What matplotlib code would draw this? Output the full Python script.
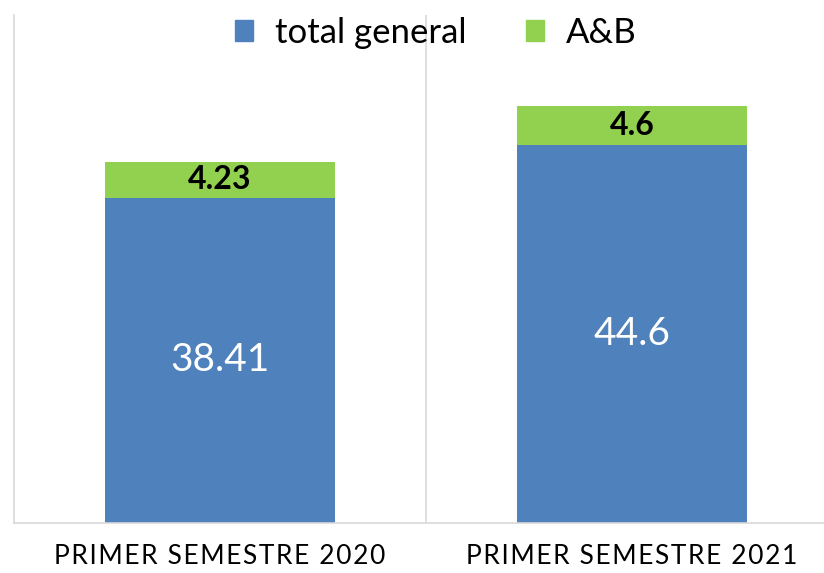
import matplotlib.pyplot as plt
from matplotlib.patches import Patch

# data
categories = ["PRIMER SEMESTRE 2020", "PRIMER SEMESTRE 2021"]
total_general = [38.41, 44.6]
ab = [4.23, 4.6]
series_names = ["total general", "A&B"]

BLUE = "#4F81BD"
GREEN = "#92D050"
GRID = "#D9D9D9"

plt.rcParams["font.family"] = ["Lato", "DejaVu Sans"]

fig = plt.figure(figsize=(8.24, 5.73), dpi=100)
ax = fig.add_axes([14 / 824, 50 / 573, 1.0, 508 / 573])

x = list(range(len(categories)))
width = 0.558
ax.bar(x, total_general, width, color=BLUE, label=series_names[0])
ax.bar(x, ab, width, bottom=total_general, color=GREEN, label=series_names[1])

for i in x:
    ax.text(i, total_general[i] / 2, f"{total_general[i]}", ha="center", va="center",
            color="white", fontsize=28)
    ax.text(i, total_general[i] + ab[i] / 2, f"{ab[i]}", ha="center", va="center",
            color="black", fontsize=23, fontweight="bold")

ax.set_xlim(-0.5, 1.5)
ax.set_ylim(0, 60)
ax.axvline(0.5, color=GRID, lw=1.2)
for side in ["top", "right"]:
    ax.spines[side].set_visible(False)
for side in ["left", "bottom"]:
    ax.spines[side].set_color(GRID)
    ax.spines[side].set_linewidth(1.2)

ax.set_yticks([])
ax.set_xticks(x)
ax.set_xticklabels(["\u200a".join(c) for c in categories], fontsize=19)
ax.tick_params(axis="x", length=0, pad=15)

handles = [Patch(color=BLUE), Patch(color=GREEN)]
fig.legend(handles, series_names, loc="upper center", bbox_to_anchor=(436 / 824, 1.025),
           ncol=2, frameon=False, fontsize=25, handlelength=0.52, handleheight=0.52,
           handletextpad=0.63, columnspacing=1.7)

fig.savefig("out.png", dpi=100)
